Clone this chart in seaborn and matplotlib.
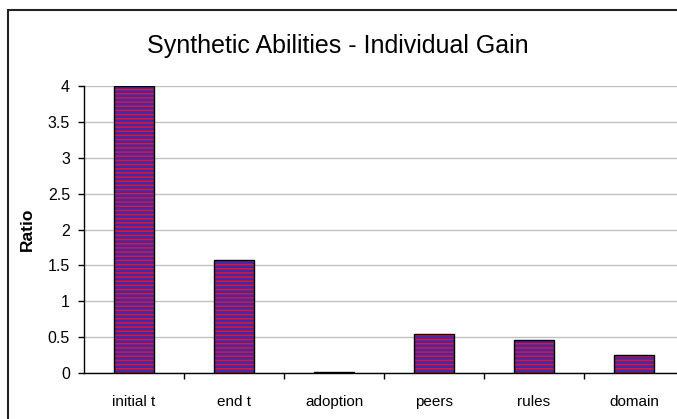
import matplotlib
matplotlib.use("Agg")
import matplotlib.pyplot as plt
import seaborn as sns
import pandas as pd
from matplotlib.patches import Rectangle
from matplotlib.ticker import FixedLocator

# datos
categorias = ["initial t", "end t", "adoption", "peers", "rules", "domain"]
ratios = [4.0, 1.57, 0.01, 0.54, 0.46, 0.25]
y_ticks = [0, 0.5, 1, 1.5, 2, 2.5, 3, 3.5, 4]

df = pd.DataFrame({"categoria": categorias, "ratio": ratios})

sns.set_style("white")
plt.rcParams["font.family"] = ["Liberation Sans", "DejaVu Sans"]
plt.rcParams["text.color"] = "black"
plt.rcParams["axes.labelcolor"] = "black"
plt.rcParams["xtick.color"] = "black"
plt.rcParams["ytick.color"] = "black"
plt.rcParams["hatch.linewidth"] = 1.1

fig = plt.figure(figsize=(6.77, 4.19), dpi=100)
ax = fig.add_axes([84 / 677, 1 - 373 / 419, 600 / 677, 287 / 419])

# relleno rayado (azul con rayas rojas)
sns.barplot(data=df, x="categoria", y="ratio", ax=ax, width=0.4,
            color="#3a2bb0", saturation=1, edgecolor="#f01020",
            linewidth=0, hatch="----", zorder=2)
# borde negro
sns.barplot(data=df, x="categoria", y="ratio", ax=ax, width=0.4,
            fill=False, edgecolor="black", linewidth=1.0, zorder=3)

ax.set_xlim(-0.5, 5.5)
ax.set_ylim(0, 4)
ax.set_yticks(y_ticks)
ax.set_yticklabels([f"{v:g}" for v in y_ticks], fontsize=11.5)
ax.yaxis.grid(True, color="#c0c0c0", linewidth=1, zorder=0)
ax.set_axisbelow(True)

ax.set_xlabel("")
ax.set_ylabel("Ratio", fontsize=12.5, fontweight="bold", labelpad=9)
ax.tick_params(axis="x", which="major", length=0, pad=16, labelsize=11)
ax.xaxis.set_minor_locator(FixedLocator([0.5, 1.5, 2.5, 3.5, 4.5]))
ax.tick_params(axis="x", which="minor", length=4, width=1, color="black",
               direction="out", bottom=True)
ax.tick_params(axis="y", length=4, width=1, color="black", direction="out",
               left=True, pad=6)

for lado in ["top", "right"]:
    ax.spines[lado].set_visible(False)
for lado in ["left", "bottom"]:
    ax.spines[lado].set_color("black")
    ax.spines[lado].set_linewidth(1)

fig.text(338 / 677, 1 - 46 / 419, "Synthetic Abilities - Individual Gain",
         ha="center", va="center", fontsize=18)

# marco exterior
fig.patches.append(Rectangle((8 / 677, -0.1), 1.2, 1 - 10 / 419 + 0.1,
                             transform=fig.transFigure, fill=False,
                             edgecolor="#222222", linewidth=1.5))

fig.savefig("out.png", dpi=100)
